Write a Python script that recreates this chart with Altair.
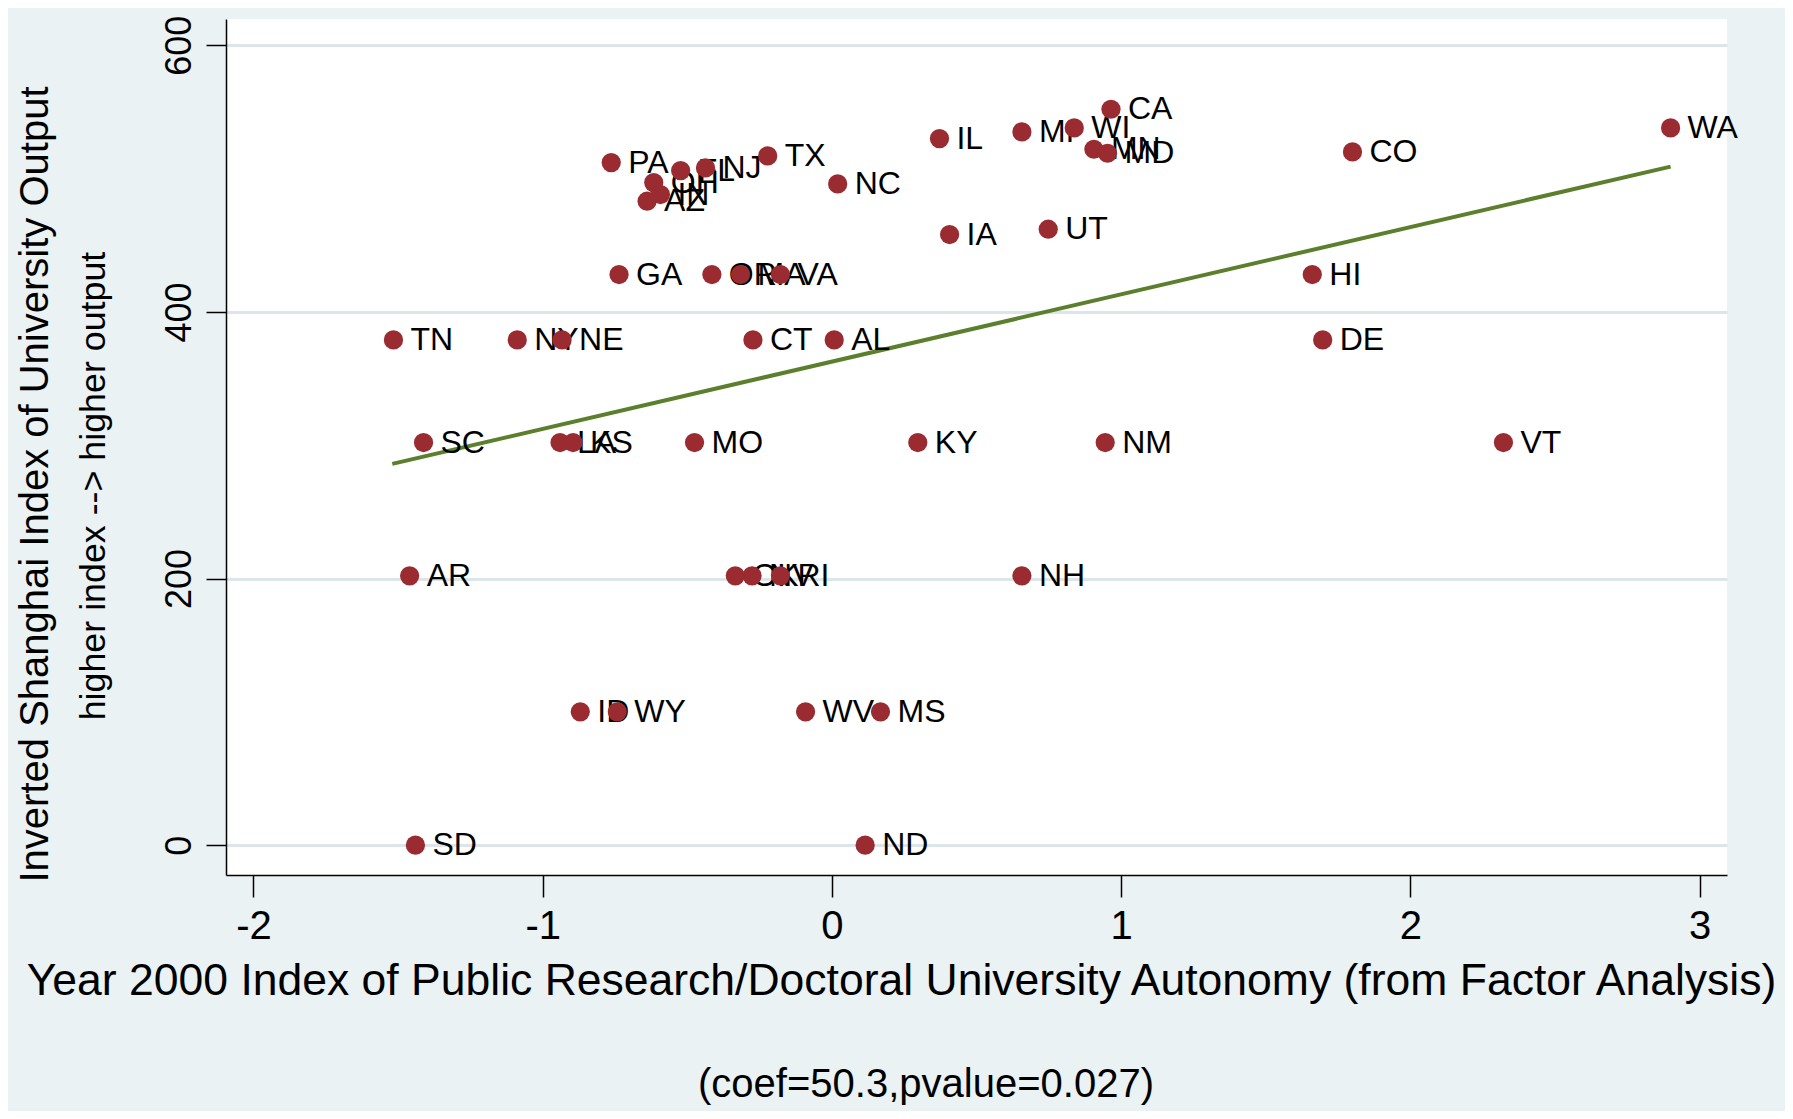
import altair as alt
import pandas as pd

# ---- data ----
states = ["WA","CA","WI","MI","MN","MD","CO","IL","TX","PA","NJ","FL","OH","IN","AZ",
          "NC","IA","UT","GA","OR","MA","VA","HI","TN","NY","NE","CT","AL","DE",
          "SC","LA","KS","MO","KY","NM","VT","AR","OK","NV","RI","NH",
          "ID","WY","WV","MS","SD","ND"]
autonomy = [2.90, 0.965, 0.838, 0.657, 0.906, 0.953, 1.80, 0.372, -0.222, -0.763, -0.437,
            -0.523, -0.616, -0.593, -0.639, 0.020, 0.407, 0.748, -0.736, -0.415, -0.316,
            -0.178, 1.661, -1.516, -1.088, -0.933, -0.273, 0.008, 1.697,
            -1.412, -0.940, -0.895, -0.475, 0.297, 0.945, 2.322, -1.460, -0.334, -0.276,
            -0.178, 0.657, -0.870, -0.742, -0.091, 0.168, -1.440, 0.115]
shanghai = [538, 552, 538, 535, 522, 519, 520, 530, 517, 512, 508, 506, 497, 488, 483,
            496, 458, 462, 428, 428, 428, 428, 428, 379, 379, 379, 379, 379, 379,
            302, 302, 302, 302, 302, 302, 302, 202, 202, 202, 202, 202,
            100, 100, 100, 100, 0, 0]

fit_x = [-1.52, 2.90]
fit_y = [286, 509]

x_ticks = [-2, -1, 0, 1, 2, 3]
y_ticks = [0, 200, 400, 600]

x_title = "Year 2000 Index of Public Research/Doctoral University Autonomy (from Factor Analysis)"
y_title = "Inverted Shanghai Index of University Output"
y_subtitle = "higher index --> higher output"
note = "(coef=50.3,pvalue=0.027)"

FONT = "Liberation Sans"
MARKER = "#992B31"
LINE = "#5B7F2C"
BG = "#EAF2F3"
GRID = "#DCE6EA"

df = pd.DataFrame({"state": states, "x": autonomy, "y": shanghai})
fit = pd.DataFrame({"x": fit_x, "y": fit_y})

W, H = 1501, 856

xscale = alt.Scale(domain=[-2.095, 3.095], nice=False, zero=False)
yscale = alt.Scale(domain=[-22.4, 619.7], nice=False, zero=False)

xaxis = alt.Axis(values=x_ticks, title=x_title, grid=False, domainColor="black",
                 domainWidth=1.5, tickColor="black", tickWidth=1.5, tickSize=22,
                 labelFontSize=40, labelPadding=9, labelColor="black", labelFont=FONT,
                 labelExpr="'' + datum.value",
                 titleFont=FONT, titleFontSize=44.5, titleFontWeight="normal",
                 titleColor="black", titleX=675, titleY=106, titleBaseline="middle",
                 titleAlign="center")
yaxis = alt.Axis(values=y_ticks, title=y_title, grid=True, gridColor=GRID, gridWidth=3,
                 domainColor="black", domainWidth=1.5, tickColor="black", tickWidth=1.5,
                 tickSize=20, labelAngle=270, labelAlign="center", labelBaseline="bottom",
                 labelFontSize=36, labelPadding=8, labelColor="black", labelFont=FONT,
                 labelExpr="'' + datum.value",
                 titleFont=FONT, titleFontSize=40, titleFontWeight="normal",
                 titleColor="black", titleAngle=270, titleX=-191, titleY=465,
                 titleBaseline="middle", titleAlign="center")

base = alt.Chart(df)

line = alt.Chart(fit).mark_line(color=LINE, strokeWidth=4).encode(
    x=alt.X("x:Q", scale=xscale, axis=xaxis),
    y=alt.Y("y:Q", scale=yscale, axis=yaxis),
)

labels = base.mark_text(align="left", baseline="middle", dx=17, font=FONT,
                        fontSize=32, color="black").encode(
    x=alt.X("x:Q", scale=xscale),
    y=alt.Y("y:Q", scale=yscale),
    text="state:N",
)

points = base.mark_circle(size=370, color=MARKER, opacity=1).encode(
    x=alt.X("x:Q", scale=xscale),
    y=alt.Y("y:Q", scale=yscale),
)

sub = alt.Chart(pd.DataFrame({"t": [y_subtitle]})).mark_text(
    angle=270, align="center", baseline="middle", font=FONT, fontSize=35.8, color="black"
).encode(x=alt.value(-132), y=alt.value(467), text="t:N")

foot = alt.Chart(pd.DataFrame({"t": [note]})).mark_text(
    align="center", baseline="middle", font=FONT, fontSize=40, color="black"
).encode(x=alt.value(700), y=alt.value(1066), text="t:N")

chart = alt.layer(line, labels, points, sub, foot).properties(
    width=W, height=H,
    background=BG,
    padding={"left": 218, "top": 11, "right": 58, "bottom": 236},
    autosize=alt.AutoSizeParams(type="none"),
).configure_view(fill="white", stroke=None)

chart.save("out.html", embed_options={"renderer": "svg", "actions": False})
